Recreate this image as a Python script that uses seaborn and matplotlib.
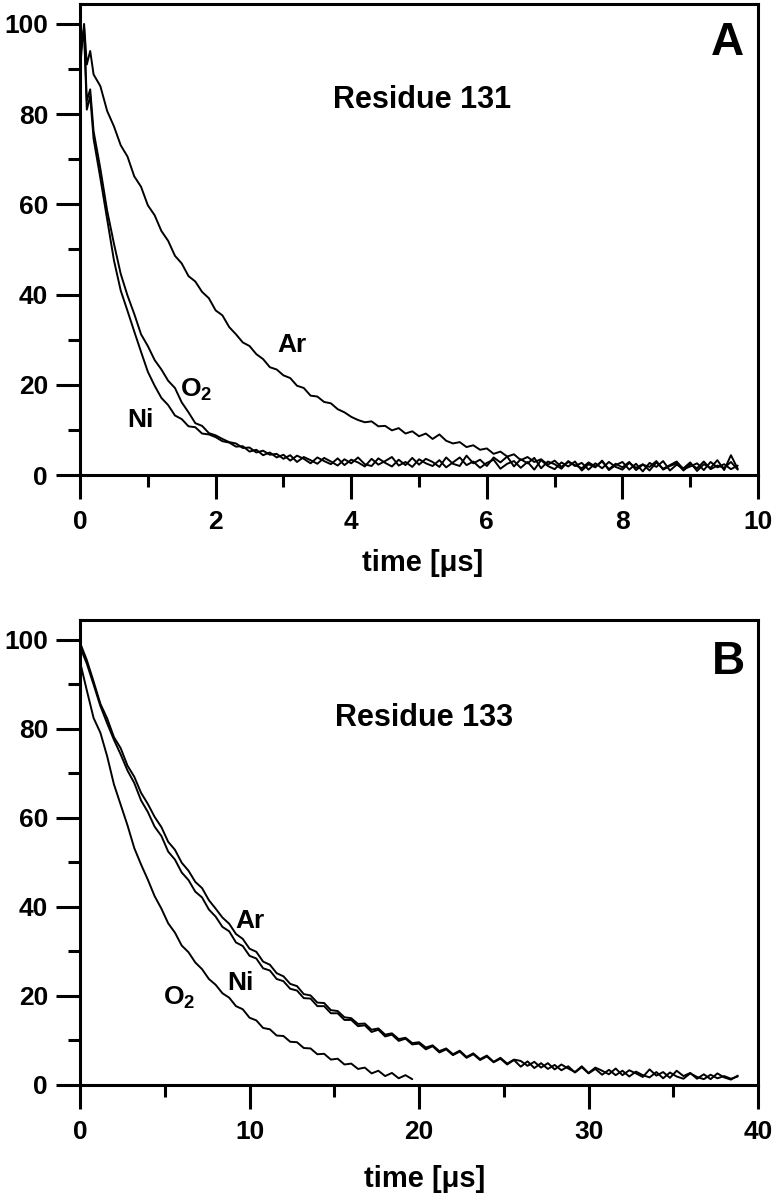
import matplotlib
matplotlib.use('Agg')
import matplotlib.pyplot as plt
import seaborn as sns
from matplotlib.ticker import MultipleLocator

# Panel A: residue 131, time in microseconds
t_a = [0.0, 0.03, 0.06, 0.1, 0.15,
       0.2, 0.3, 0.4, 0.5, 0.6, 0.7, 0.8, 0.9, 1.0, 1.1,
       1.2, 1.3, 1.4, 1.5, 1.6, 1.7, 1.8, 1.9, 2.0, 2.1,
       2.2, 2.3, 2.4, 2.5, 2.6, 2.7, 2.8, 2.9, 3.0, 3.1,
       3.2, 3.3, 3.4, 3.5, 3.6, 3.7, 3.8, 3.9, 4.0, 4.1,
       4.2, 4.3, 4.4, 4.5, 4.6, 4.7, 4.8, 4.9, 5.0, 5.1,
       5.2, 5.3, 5.4, 5.5, 5.6, 5.7, 5.8, 5.9, 6.0, 6.1,
       6.2, 6.3, 6.4, 6.5, 6.6, 6.7, 6.8, 6.9, 7.0, 7.1,
       7.2, 7.3, 7.4, 7.5, 7.6, 7.7, 7.8, 7.9, 8.0, 8.1,
       8.2, 8.3, 8.4, 8.5, 8.6, 8.7, 8.8, 8.9, 9.0, 9.1,
       9.2, 9.3, 9.4, 9.5, 9.6, 9.7]

ar_a = [90.0, 95.5, 100.0, 91.0, 94.0,
        88.8, 86.2, 80.7, 77.3, 73.1, 70.6, 66.2, 63.9, 59.8, 57.6,
        54.1, 51.9, 48.6, 46.9, 44.1, 42.9, 40.6, 39.2, 36.5, 35.4,
        32.8, 31.2, 29.4, 28.6, 26.8, 25.7, 23.9, 23.4, 22.1, 21.5,
        19.8, 19.3, 17.6, 17.4, 16.2, 15.9, 14.6, 13.9, 12.9, 12.2,
        11.7, 11.9, 10.8, 10.9, 9.9, 10.4, 9.2, 9.7, 8.6, 9.2,
        8.0, 9.0, 7.6, 7.0, 7.3, 6.2, 6.6, 5.6, 5.9, 4.7,
        5.2, 4.1, 4.6, 3.3, 4.0, 2.9, 3.5, 2.3, 3.2, 1.8,
        2.9, 2.2, 1.5, 2.8, 1.9, 3.0, 1.3, 2.5, 1.7, 2.9,
        1.1, 2.3, 1.8, 3.1, 1.2, 2.0, 2.6, 1.0, 2.4, 1.5,
        3.0, 1.3, 2.1, 1.6, 2.9, 1.2]

o2_a = [93.0, 97.0, 99.0, 83.0, 85.5,
        76.2, 67.9, 58.6, 51.3, 44.6, 39.8, 35.7, 31.2, 28.6, 25.5,
        23.4, 20.9, 19.3, 16.1, 13.9, 11.5, 10.9, 9.3, 8.8, 8.0,
        7.3, 7.0, 6.0, 6.1, 5.0, 5.4, 4.5, 4.7, 3.6, 4.4,
        2.9, 4.0, 3.3, 2.5, 3.8, 3.0, 2.1, 3.5, 2.6, 3.9,
        2.4, 2.0, 3.7, 2.7, 1.9, 3.4, 2.2, 3.8, 2.3, 3.6,
        2.9, 1.8, 3.9, 2.5, 2.0, 4.3, 2.6, 3.4, 2.0, 3.9,
        2.8, 4.1, 1.9, 3.5, 2.6, 3.8, 1.5, 3.0, 2.4, 1.4,
        3.1, 2.0, 2.7, 1.2, 2.6, 1.5, 2.9, 1.8, 1.2, 2.7,
        1.6, 2.4, 1.0, 2.8, 1.4, 2.2, 3.0, 1.3, 1.9, 2.6,
        1.1, 2.9, 1.7, 2.4, 1.3, 2.1]

ni_a = [92.0, 96.0, 98.0, 81.0, 84.0,
        74.5, 65.8, 56.7, 47.6, 40.9, 36.4, 31.8, 27.3, 22.9, 19.8,
        17.1, 15.5, 13.2, 12.4, 10.8, 10.6, 9.2, 9.0, 8.4, 7.5,
        7.2, 6.3, 6.4, 5.2, 5.6, 4.4, 5.0, 3.9, 4.5, 3.2,
        4.3, 3.6, 2.6, 3.9, 3.1, 2.4, 3.7, 2.2, 3.4, 2.8,
        1.9, 3.6, 2.3, 3.1, 4.0, 2.1, 2.9, 1.8, 3.5, 2.6,
        2.0, 3.3, 1.7, 2.8, 3.9, 2.2, 3.0, 1.6, 2.7, 3.4,
        1.4, 2.5, 3.1, 1.6, 2.9, 1.2, 3.3, 2.0, 1.3, 2.8,
        1.9, 3.0, 1.0, 2.4, 1.7, 3.2, 1.1, 2.2, 2.9, 1.2,
        2.5, 0.8, 2.7, 1.8, 3.1, 1.0, 2.3, 1.5, 2.8, 0.9,
        2.4, 1.6, 3.3, 1.1, 4.4, 1.4]

# Panel B: residue 133
t_b = [0.0, 0.4, 0.8, 1.2, 1.6, 2.0, 2.4, 2.8, 3.2, 3.6,
       4.0, 4.4, 4.8, 5.2, 5.6, 6.0, 6.4, 6.8, 7.2, 7.6,
       8.0, 8.4, 8.8, 9.2, 9.6, 10.0, 10.4, 10.8, 11.2, 11.6,
       12.0, 12.4, 12.8, 13.2, 13.6, 14.0, 14.4, 14.8, 15.2, 15.6,
       16.0, 16.4, 16.8, 17.2, 17.6, 18.0, 18.4, 18.8, 19.2, 19.6,
       20.0, 20.4, 20.8, 21.2, 21.6, 22.0, 22.4, 22.8, 23.2, 23.6,
       24.0, 24.4, 24.8, 25.2, 25.6, 26.0, 26.4, 26.8, 27.2, 27.6,
       28.0, 28.4, 28.8, 29.2, 29.6, 30.0, 30.4, 30.8, 31.2, 31.6,
       32.0, 32.4, 32.8, 33.2, 33.6, 34.0, 34.4, 34.8, 35.2, 35.6,
       36.0, 36.4, 36.8, 37.2, 37.6, 38.0, 38.4, 38.8]

ar_b = [99.3, 95.4, 90.6, 85.6, 82.3, 78.1, 75.6, 71.7, 69.2, 65.6,
        63.1, 60.2, 57.9, 54.6, 52.8, 49.9, 48.1, 45.6, 44.2, 41.5,
        39.6, 37.6, 36.2, 33.9, 32.8, 30.6, 29.9, 27.7, 27.0, 25.1,
        24.4, 22.7, 22.2, 20.4, 20.1, 18.5, 18.4, 16.8, 16.6, 15.2,
        15.0, 13.7, 13.8, 12.4, 12.7, 11.3, 11.6, 10.3, 10.6, 9.4,
        9.6, 8.4, 8.9, 7.6, 8.2, 6.9, 7.7, 6.3, 7.1, 5.8,
        6.6, 5.2, 6.1, 4.8, 5.7, 5.4, 4.3, 5.2, 3.9, 4.9,
        3.5, 4.6, 3.7, 2.9, 4.2, 2.7, 3.9, 3.2, 2.4, 3.7,
        2.2, 3.3, 2.6, 1.8, 3.5, 2.1, 2.9, 1.6, 3.2, 2.0,
        2.7, 1.4, 2.4, 1.3, 2.6, 1.7, 1.2, 2.1]

ni_b = [98.4, 94.6, 89.9, 85.1, 81.2, 77.5, 74.2, 70.6, 67.8, 63.9,
        61.3, 58.0, 55.9, 52.4, 50.6, 47.7, 46.0, 43.4, 42.1, 39.4,
        37.8, 35.5, 34.5, 32.0, 31.2, 29.0, 28.4, 26.2, 25.7, 23.8,
        23.3, 21.6, 21.2, 19.5, 19.4, 17.7, 17.7, 16.1, 16.1, 14.6,
        14.6, 13.2, 13.4, 11.9, 12.4, 10.9, 11.3, 9.9, 10.4, 9.1,
        9.3, 8.0, 8.7, 7.3, 8.0, 6.7, 7.5, 6.1, 6.9, 5.6,
        6.4, 5.1, 5.9, 4.6, 5.6, 4.1, 5.3, 3.8, 4.9, 3.6,
        4.5, 3.3, 4.2, 2.8, 4.0, 2.6, 3.6, 2.3, 3.4, 2.2,
        3.2, 1.9, 3.0, 2.2, 1.7, 2.9, 1.5, 2.8, 1.9, 1.4,
        2.6, 1.8, 1.3, 2.3, 1.5, 2.0, 1.4, 1.9]

o2_b = [95.0, 88.6, 82.4, 79.1, 73.8, 67.5, 62.9, 58.3, 53.2, 49.5,
        46.1, 42.4, 39.6, 36.3, 34.2, 31.3, 29.8, 27.5, 26.0, 23.8,
        22.5, 20.6, 19.6, 17.7, 17.0, 15.1, 14.5, 12.8, 12.5, 11.1,
        11.0, 9.7, 9.6, 8.3, 8.2, 6.9, 7.0, 5.7, 5.9, 4.6,
        4.8, 3.6, 3.9, 2.6, 3.2, 2.0, 2.7, 1.5, 2.2, 1.3]

sns.set_style('ticks')
plt.rcParams['font.family'] = ['Liberation Sans', 'DejaVu Sans']
plt.rcParams['font.weight'] = 'bold'
plt.rcParams['text.color'] = 'black'
plt.rcParams['axes.labelcolor'] = 'black'
plt.rcParams['xtick.color'] = 'black'
plt.rcParams['ytick.color'] = 'black'
plt.rcParams['mathtext.fontset'] = 'custom'
plt.rcParams['mathtext.rm'] = 'Liberation Sans:bold'
plt.rcParams['mathtext.bf'] = 'Liberation Sans:bold'

fig = plt.figure(figsize=(7.74, 11.99), dpi=100)
ax_a = fig.add_axes([0.1034, 0.6038, 0.8760, 0.3928])
ax_b = fig.add_axes([0.1034, 0.0951, 0.8760, 0.3878])


def draw(ax, t, curves, xmax, xmajor):
    for vals in curves:
        sns.lineplot(x=t[:len(vals)], y=vals, ax=ax, color='black', lw=1.4)
    ax.set_xlim(0, xmax)
    ax.set_ylim(0, 104.4)
    ax.xaxis.set_major_locator(MultipleLocator(xmajor))
    ax.xaxis.set_minor_locator(MultipleLocator(xmajor / 2))
    ax.yaxis.set_major_locator(MultipleLocator(20))
    ax.yaxis.set_minor_locator(MultipleLocator(10))
    ax.tick_params(which='major', direction='out', length=17, width=2.2,
                   labelsize=19, color='black', labelcolor='black')
    ax.tick_params(which='minor', direction='out', length=8.5, width=2.2)
    ax.tick_params(axis='x', which='major', pad=8)
    ax.tick_params(axis='y', which='major', pad=6)
    for lab in ax.get_xticklabels() + ax.get_yticklabels():
        lab.set_fontweight('bold')
    for sp in ax.spines.values():
        sp.set_linewidth(2.2)
        sp.set_color('black')
    ax.set_xlabel('time [μs]', fontsize=21, fontweight='bold', color='black')
    ax.set_ylabel('')


draw(ax_a, t_a, [ar_a, o2_a, ni_a], 10, 2)
draw(ax_b, t_b, [ar_b, ni_b, o2_b], 40, 10)
ax_a.xaxis.set_label_coords(0.505, -0.158)
ax_b.xaxis.set_label_coords(0.508, -0.172)

ax_a.text(0.955, 0.892, 'A', transform=ax_a.transAxes, fontsize=33,
          fontweight='bold', ha='center', va='baseline')
ax_a.text(0.504, 0.779, 'Residue 131', transform=ax_a.transAxes, fontsize=22,
          fontweight='bold', ha='center', va='baseline')
ax_a.text(2.91, 27.3, 'Ar', fontsize=19, fontweight='bold', ha='left', va='baseline')
ax_a.text(1.47, 17.3, r'$\mathbf{O_2}$', fontsize=19, ha='left', va='baseline')
ax_a.text(0.69, 10.6, 'Ni', fontsize=19, fontweight='bold', ha='left', va='baseline')

ax_b.text(0.957, 0.884, 'B', transform=ax_b.transAxes, fontsize=33,
          fontweight='bold', ha='center', va='baseline')
ax_b.text(0.507, 0.771, 'Residue 133', transform=ax_b.transAxes, fontsize=22,
          fontweight='bold', ha='center', va='baseline')
ax_b.text(9.14, 35.2, 'Ar', fontsize=19, fontweight='bold', ha='left', va='baseline')
ax_b.text(8.67, 21.3, 'Ni', fontsize=19, fontweight='bold', ha='left', va='baseline')
ax_b.text(4.9, 18.1, r'$\mathbf{O_2}$', fontsize=19, ha='left', va='baseline')

fig.savefig('out.png', dpi=100)
